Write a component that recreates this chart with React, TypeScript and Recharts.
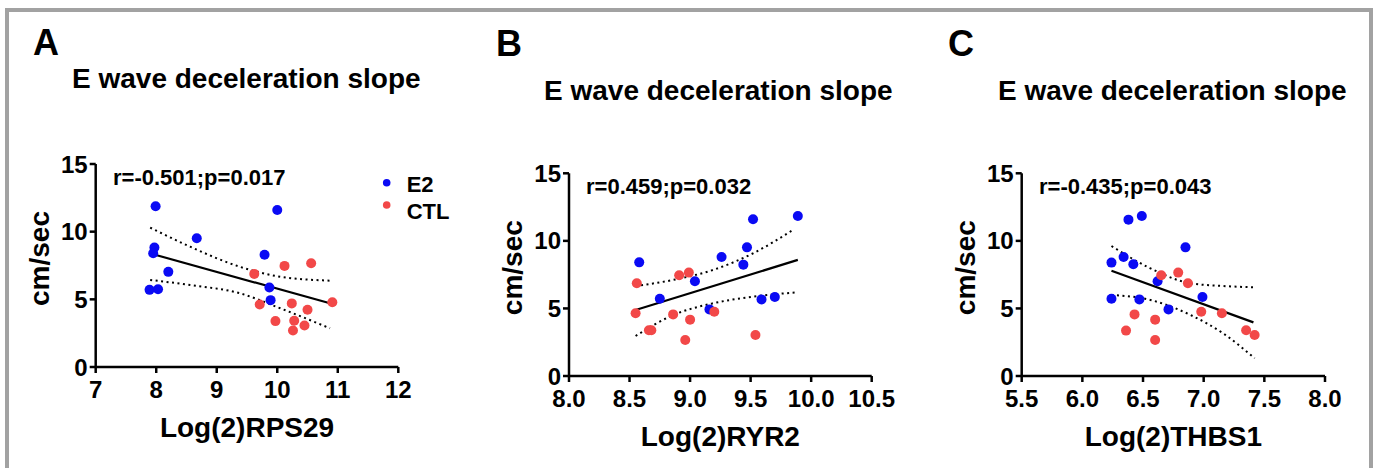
import React from "react";
import { ComposedChart, Scatter, Line, XAxis, YAxis, Label, Legend } from "recharts";

type Pt = [number, number];

const seriesNames = ["E2", "CTL"];
const seriesColors = ["#0a0af4", "#f24848"];
const yTicks = [0, 5, 10, 15];
const panelLetters = ["A", "B", "C"];
const panelTitle = "E wave deceleration slope";
const statText = ["r=-0.501;p=0.017", "r=0.459;p=0.032", "r=-0.435;p=0.043"];
const xLabels = ["Log(2)RPS29", "Log(2)RYR2", "Log(2)THBS1"];

// panel A
const aTicks = [7, 8, 9, 10, 11, 12];
const aE2: Pt[] = [[7.99, 11.88], [7.97, 8.83], [7.95, 8.41], [7.89, 5.7], [8.03, 5.75], [8.2, 7.03], [8.67, 9.52], [9.79, 8.29], [10.0, 11.6], [9.87, 5.88], [9.89, 4.94]];
const aCTL: Pt[] = [[9.62, 6.88], [9.71, 4.62], [10.12, 7.47], [10.56, 7.67], [9.97, 3.39], [10.24, 4.7], [10.28, 3.42], [10.26, 2.7], [10.45, 3.07], [10.5, 4.23], [10.91, 4.79]];
const aFit: Pt[] = [[7.95, 8.33], [10.87, 4.71]];
const aUpper: Pt[] = [[7.9, 10.3], [8.56, 8.89], [9.38, 7.41], [10.05, 6.67], [10.87, 6.38]];
const aLower: Pt[] = [[7.9, 6.43], [8.56, 6.06], [9.38, 5.45], [10.05, 4.34], [10.87, 2.86]];

// panel B
const bTicks = [8.0, 8.5, 9.0, 9.5, 10.0, 10.5];
const bE2: Pt[] = [[8.58, 8.41], [8.75, 5.72], [9.04, 7.01], [9.16, 4.93], [9.26, 8.81], [9.44, 8.24], [9.47, 9.52], [9.52, 11.6], [9.59, 5.67], [9.7, 5.85], [9.89, 11.84]];
const bCTL: Pt[] = [[8.56, 6.86], [8.55, 4.64], [8.66, 3.38], [8.68, 3.38], [8.86, 4.56], [8.91, 7.45], [8.99, 7.65], [9.0, 4.17], [8.96, 2.66], [9.2, 4.76], [9.54, 3.03]];
const bFit: Pt[] = [[8.55, 4.88], [9.89, 8.59]];
const bUpper: Pt[] = [[8.55, 6.66], [8.86, 7.11], [9.19, 7.85], [9.52, 9.08], [9.85, 10.81]];
const bLower: Pt[] = [[8.55, 2.96], [8.86, 4.51], [9.19, 5.38], [9.52, 5.87], [9.88, 6.19]];

// panel C
const cTicks = [5.5, 6.0, 6.5, 7.0, 7.5, 8.0];
const cE2: Pt[] = [[6.24, 8.39], [6.24, 5.72], [6.34, 8.81], [6.38, 11.57], [6.42, 8.27], [6.47, 5.67], [6.49, 11.84], [6.62, 7.01], [6.71, 4.93], [6.85, 9.52], [6.99, 5.85]];
const cCTL: Pt[] = [[6.36, 3.36], [6.43, 4.56], [6.6, 4.17], [6.6, 2.66], [6.65, 7.45], [6.79, 7.65], [6.87, 6.86], [6.98, 4.76], [7.15, 4.64], [7.35, 3.38], [7.42, 3.03]];
const cFit: Pt[] = [[6.24, 7.79], [7.41, 3.97]];
const cUpper: Pt[] = [[6.24, 9.62], [6.56, 7.97], [6.89, 6.86], [7.16, 6.66], [7.42, 6.56]];
const cLower: Pt[] = [[6.24, 6.0], [6.56, 5.63], [6.89, 4.52], [7.16, 3.16], [7.42, 1.31]];

const FONT = '"Liberation Sans", Arial, Helvetica, sans-serif';
const rows = (pts: Pt[]) => pts.map(([x, y]) => ({ x, y }));

const dotShape = (color: string) => (p: any) => <circle cx={p.cx} cy={p.cy} r={5} fill={color} />;

function LegendBox() {
  return (
    <svg width={90} height={60} style={{ display: "block" }}>
      {seriesNames.map((name, i) => (
        <g key={name}>
          <circle cx={8.7} cy={i === 0 ? 12.7 : 35} r={3.8} fill={seriesColors[i]} />
          <text x={28.7} y={i === 0 ? 21.8 : 49} fontFamily={FONT} fontWeight="bold" fontSize={22} fill="#000">
            {name}
          </text>
        </g>
      ))}
    </svg>
  );
}

type PanelProps = {
  left: number;
  width: number;
  margin: { top: number; right: number; bottom: number; left: number };
  ticks: number[];
  digits: number;
  xLabel: string;
  e2: Pt[];
  ctl: Pt[];
  fit: Pt[];
  upper: Pt[];
  lower: Pt[];
  legend?: boolean;
};

function Panel({ left, width, margin, ticks, digits, xLabel, e2, ctl, fit, upper, lower, legend }: PanelProps) {
  const tickStyle = { fontFamily: FONT, fontWeight: "bold", fontSize: 24, fill: "#000" };
  return (
    <div style={{ position: "absolute", left, top: 0 }}>
      <ComposedChart width={width} height={468} margin={margin}>
        <XAxis
          type="number"
          dataKey="x"
          domain={[ticks[0], ticks[ticks.length - 1]]}
          ticks={ticks}
          interval={0}
          allowDataOverflow
          tickFormatter={(v: number) => v.toFixed(digits)}
          tick={tickStyle}
          axisLine={{ stroke: "#000", strokeWidth: 2.5 }}
          tickLine={{ stroke: "#000", strokeWidth: 2.5 }}
          tickSize={6}
          tickMargin={8}
          height={60}
        >
          <Label
            content={(p: any) => (
              <text
                x={p.viewBox.x + p.viewBox.width / 2}
                y={p.viewBox.y + 70}
                textAnchor="middle"
                fontFamily={FONT}
                fontWeight="bold"
                fontSize={28}
                fill="#000"
              >
                {xLabel}
              </text>
            )}
          />
        </XAxis>
        <YAxis
          type="number"
          dataKey="y"
          domain={[0, 15]}
          ticks={yTicks}
          interval={0}
          allowDataOverflow
          tick={tickStyle}
          axisLine={{ stroke: "#000", strokeWidth: 2.5 }}
          tickLine={{ stroke: "#000", strokeWidth: 2.5 }}
          tickSize={6}
          tickMargin={2}
          width={60}
        >
          <Label
            content={(p: any) => {
              const cx = p.viewBox.x + p.viewBox.width - 56;
              const cy = p.viewBox.y + p.viewBox.height / 2 - 7;
              return (
                <text
                  x={cx}
                  y={cy}
                  transform={`rotate(-90 ${cx} ${cy})`}
                  textAnchor="middle"
                  dominantBaseline="central"
                  fontFamily={FONT}
                  fontWeight="bold"
                  fontSize={28}
                  fill="#000"
                >
                  cm/sec
                </text>
              );
            }}
          />
        </YAxis>
        <Line data={rows(upper)} dataKey="y" type="monotone" stroke="#000" strokeWidth={2} strokeDasharray="2 3.5" dot={false} isAnimationActive={false} />
        <Line data={rows(lower)} dataKey="y" type="monotone" stroke="#000" strokeWidth={2} strokeDasharray="2 3.5" dot={false} isAnimationActive={false} />
        <Line data={rows(fit)} dataKey="y" type="linear" stroke="#000" strokeWidth={2.2} dot={false} isAnimationActive={false} />
        <Scatter name={seriesNames[0]} data={rows(e2)} shape={dotShape(seriesColors[0])} isAnimationActive={false} />
        <Scatter name={seriesNames[1]} data={rows(ctl)} shape={dotShape(seriesColors[1])} isAnimationActive={false} />
        {legend && (
          <Legend
            layout="vertical"
            align="center"
            verticalAlign="middle"
            content={() => <LegendBox />}
            wrapperStyle={{ left: 378, top: 170, width: 90, height: 60 }}
          />
        )}
      </ComposedChart>
    </div>
  );
}

const letterPos = [[33, 55], [496, 56], [948, 56]];
const titlePos = [[72, 88], [544, 100], [998, 100]];
const statPos = [[113, 185], [586, 194], [1039, 194]];

export default function App() {
  return (
    <div style={{ position: "absolute", left: 0, top: 0, width: 1376, height: 468, background: "#fff", overflow: "hidden" }}>
      <div
        style={{
          position: "absolute",
          left: 5,
          top: 8,
          width: 1368,
          height: 470,
          boxSizing: "border-box",
          borderLeft: "4px solid #a2a2a2",
          borderTop: "4px solid #a2a2a2",
          borderRight: "4px solid #a2a2a2",
        }}
      />
      <Panel left={0} width={460} margin={{ top: 164, right: 61.7, bottom: 41, left: 35.7 }} ticks={aTicks} digits={0} xLabel={xLabels[0]} e2={aE2} ctl={aCTL} fit={aFit} upper={aUpper} lower={aLower} legend />
      <Panel left={460} width={460} margin={{ top: 173.3, right: 48.3, bottom: 32, left: 49 }} ticks={bTicks} digits={1} xLabel={xLabels[1]} e2={bE2} ctl={bCTL} fit={bFit} upper={bUpper} lower={bLower} />
      <Panel left={920} width={456} margin={{ top: 173.3, right: 51, bottom: 32, left: 41.7 }} ticks={cTicks} digits={1} xLabel={xLabels[2]} e2={cE2} ctl={cCTL} fit={cFit} upper={cUpper} lower={cLower} />
      <svg width={1376} height={468} style={{ position: "absolute", left: 0, top: 0, pointerEvents: "none" }}>
        {panelLetters.map((l, i) => (
          <text key={l} x={letterPos[i][0]} y={letterPos[i][1]} fontFamily={FONT} fontWeight="bold" fontSize={36} fill="#000">
            {l}
          </text>
        ))}
        {titlePos.map(([x, y], i) => (
          <text key={i} x={x} y={y} fontFamily={FONT} fontWeight="bold" fontSize={28} fill="#000">
            {panelTitle}
          </text>
        ))}
        {statPos.map(([x, y], i) => (
          <text key={i} x={x} y={y} fontFamily={FONT} fontWeight="bold" fontSize={22} fill="#000">
            {statText[i]}
          </text>
        ))}
      </svg>
    </div>
  );
}
